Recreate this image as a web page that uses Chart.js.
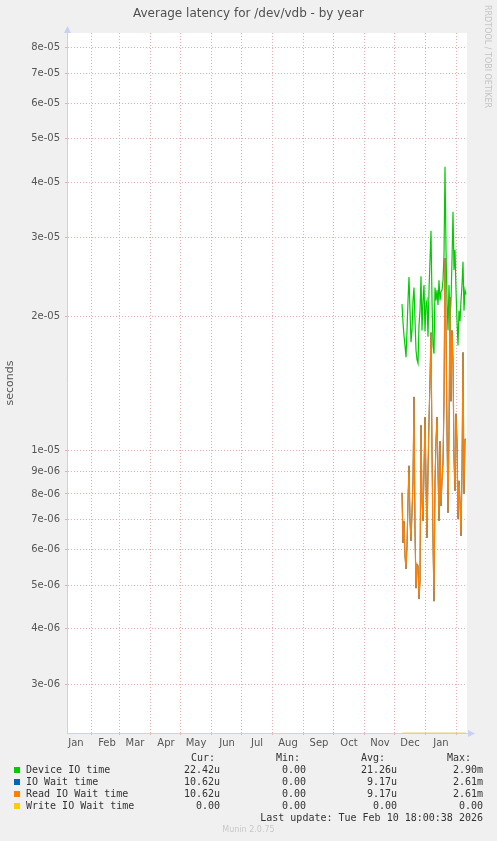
<!DOCTYPE html>
<html><head><meta charset="utf-8">
<script src="https://cdn.jsdelivr.net/npm/chart.js@4.4.1/dist/chart.umd.min.js"></script>
<style>
html,body{margin:0;padding:0;background:#f0f0f0;width:497px;height:841px;overflow:hidden;}
canvas{position:absolute;left:0;top:0;}
.txt{position:absolute;white-space:pre;}
.mono{font-family:"DejaVu Sans Mono",monospace;font-size:10px;line-height:12px;color:#333;}
.sq{position:absolute;width:6px;height:6px;}
</style></head><body>
<canvas id="c" width="497" height="841"></canvas>
<div class="txt" id="title" style="left:0;width:497px;top:5px;text-align:center;font-family:'DejaVu Sans';font-size:12px;line-height:16px;color:#505050;">Average latency for /dev/vdb - by year</div>
<div class="txt" style="left:492px;top:5px;transform:rotate(90deg);transform-origin:0 0;font-family:'DejaVu Sans';font-size:8px;line-height:9px;color:#c4c4c4;">RRDTOOL / TOBI OETIKER</div>
<div class="txt" style="left:0;width:497px;top:825px;text-align:center;font-family:'DejaVu Sans';font-size:8px;line-height:10px;color:#c8c8c8;">Munin 2.0.75</div>
<div id="legend"></div>
<script>
// ---- data ----
const monthNames = ['Jan','Feb','Mar','Apr','May','Jun','Jul','Aug','Sep','Oct','Nov','Dec','Jan'];
// days counted from 2025-01-01
const monthStarts = [31,59,90,120,151,181,212,243,273,304,334,365,396];
const monthLabelPos = [16,47,75,106,136,167,197,228,259,289,320,350,381];
const xMinDay = 7, xMaxDay = 407;
const yTicks = [3e-6,4e-6,5e-6,6e-6,7e-6,8e-6,9e-6,1e-5,2e-5,3e-5,4e-5,5e-5,6e-5,7e-5,8e-5];
const yMin = 2.33e-6, yMax = 8.63e-5;

const sampleDays = [342,343,344,345,346,347,348,349,350,351,352,353,354,355,356,357,358,359,360,361,362,363,364,365,366,367,368,369,370,371,372,373,374,375,376,377,378,379,380,381,382,383,384,385,386,387,388,389,390,391,392,393,394,395,396,397,398,399,400,401,402,403,404,405,406];

const deviceIO = [2.13e-5,1.94e-5,1.81e-5,1.72e-5,1.62e-5,1.86e-5,2.17e-5,2.45e-5,2.06e-5,1.75e-5,1.86e-5,2.17e-5,2.32e-5,1.96e-5,1.68e-5,1.60e-5,1.57e-5,1.91e-5,2.06e-5,2.46e-5,1.86e-5,2.17e-5,2.35e-5,1.85e-5,2.12e-5,2.17e-5,1.80e-5,2.29e-5,2.67e-5,3.11e-5,2.17e-5,1.72e-5,1.65e-5,2.32e-5,2.17e-5,2.29e-5,2.12e-5,2.41e-5,2.17e-5,2.27e-5,2.29e-5,2.41e-5,2.74e-5,4.33e-5,2.82e-5,2.17e-5,1.86e-5,2.35e-5,1.96e-5,2.17e-5,2.67e-5,3.43e-5,2.54e-5,2.82e-5,2.29e-5,1.96e-5,1.72e-5,2.06e-5,1.95e-5,2.17e-5,2.35e-5,2.65e-5,2.06e-5,2.29e-5,2.24e-5];

const ioWait = [8.05e-6,6.21e-6,6.96e-6,5.81e-6,5.43e-6,6.12e-6,7.72e-6,9.25e-6,6.96e-6,6.28e-6,7.26e-6,8.56e-6,1.32e-5,6.61e-6,4.92e-6,5.57e-6,5.52e-6,4.65e-6,5.10e-6,1.14e-5,7.72e-6,6.96e-6,9.02e-6,1.19e-5,8.56e-6,6.38e-6,9.02e-6,1.17e-5,1.44e-5,1.84e-5,1.00e-5,6.28e-6,4.60e-6,8.56e-6,1.05e-5,1.19e-5,9.02e-6,6.96e-6,1.05e-5,7.52e-6,8.56e-6,9.40e-6,1.29e-5,2.70e-5,1.86e-5,1.11e-5,7.26e-6,1.11e-5,2.21e-5,1.29e-5,1.86e-5,1.59e-5,9.59e-6,8.13e-6,1.21e-5,1.05e-5,7.03e-6,8.56e-6,7.72e-6,6.44e-6,9.02e-6,1.66e-5,8.01e-6,1.06e-5,1.062e-5];

const readIOWait = [8.05e-6,6.21e-6,6.96e-6,5.81e-6,5.43e-6,6.12e-6,7.72e-6,9.25e-6,6.96e-6,6.28e-6,7.26e-6,8.56e-6,1.32e-5,6.61e-6,4.92e-6,5.57e-6,5.52e-6,4.65e-6,5.10e-6,1.14e-5,7.72e-6,6.96e-6,9.02e-6,1.19e-5,8.56e-6,6.38e-6,9.02e-6,1.17e-5,1.44e-5,1.84e-5,1.00e-5,6.28e-6,4.60e-6,8.56e-6,1.05e-5,1.19e-5,9.02e-6,6.96e-6,1.05e-5,7.52e-6,8.56e-6,9.40e-6,1.29e-5,2.70e-5,1.86e-5,1.11e-5,7.26e-6,1.11e-5,2.21e-5,1.29e-5,1.86e-5,1.59e-5,9.59e-6,8.13e-6,1.21e-5,1.05e-5,7.03e-6,8.56e-6,7.72e-6,6.44e-6,9.02e-6,1.66e-5,8.01e-6,1.06e-5,1.062e-5];

const writeIOWait = [0,0,0,0,0,0,0,0,0,0,0,0,0,0,0,0,0,0,0,0,0,0,0,0,0,0,0,0,0,0,0,0,0,0,0,0,0,0,0,0,0,0,0,0,0,0,0,0,0,0,0,0,0,0,0,0,0,0,0,0,0,0,0,0,0];

const seriesNames = ['Device IO time','IO Wait time','Read IO Wait time','Write IO Wait time'];
const seriesColors = ['#00cc00','#0066b3','#ff8000','#ffcc00'];
const curVals = ['22.42u','10.62u','10.62u','0.00'];
const minVals = ['0.00','0.00','0.00','0.00'];
const avgVals = ['21.26u','9.17u','9.17u','0.00'];
const maxVals = ['2.90m','2.61m','2.61m','0.00'];
const lastUpdate = 'Last update: Tue Feb 10 18:00:38 2026';

// ---- chart ----
const gridCol = '#e3b0b0';
const axisCol = '#c9d0f2';
function pts(vals){ return sampleDays.map((d,i)=>({x:d, y: vals[i] > 0 ? vals[i] : yMin})); }
function fmtExp(v){ return Number(v).toExponential(0).replace(/e([+-])(\d)$/, 'e$10$2'); }

const bgPlugin = {
  id:'bg',
  beforeDraw(chart){
    const {ctx, chartArea:a} = chart;
    ctx.save(); ctx.fillStyle='#ffffff'; ctx.fillRect(a.left, a.top, a.right-a.left, a.bottom-a.top); ctx.restore();
  },
  afterDraw(chart){
    const {ctx, chartArea:a} = chart;
    ctx.save(); ctx.fillStyle = axisCol;
    ctx.beginPath(); ctx.moveTo(a.left+0.5, a.top-7); ctx.lineTo(a.left-3, a.top); ctx.lineTo(a.left+4, a.top); ctx.closePath(); ctx.fill();
    ctx.beginPath(); ctx.moveTo(a.right+8, a.bottom+0.5); ctx.lineTo(a.right+1, a.bottom-3); ctx.lineTo(a.right+1, a.bottom+4); ctx.closePath(); ctx.fill();
    ctx.restore();
  }
};

const lineDs = (label, vals, color, order, extra) => Object.assign({
  label, data: pts(vals), borderColor: color, backgroundColor: color,
  borderWidth: 1.2, pointRadius: 0, tension: 0, fill: false, order
}, extra || {});

new Chart(document.getElementById('c'), {
  type:'line',
  data:{ datasets:[
    lineDs(seriesNames[0], deviceIO, seriesColors[0], 4),
    lineDs(seriesNames[1], ioWait, seriesColors[1], 3, {borderWidth:1}),
    lineDs(seriesNames[2], readIOWait, seriesColors[2], 2),
    lineDs(seriesNames[3], writeIOWait, '#e8d070', 1, {clip:false, borderWidth:1})
  ]},
  options:{
    responsive:false, animation:false, devicePixelRatio:1,
    layout:{ padding:{left:0, top:33, right:30, bottom:88} },
    plugins:{ legend:{display:false}, tooltip:{enabled:false}, title:{display:false} },
    scales:{
      x:{
        type:'linear', min:xMinDay, max:xMaxDay,
        afterBuildTicks: s => { s.ticks = monthStarts.concat(monthLabelPos).sort((a,b)=>a-b).map(v=>({value:v})); },
        afterFit: s => { s.height = 20; },
        ticks:{ autoSkip:false, maxRotation:0, minRotation:0, padding:2, color:'#555',
          font:{family:'DejaVu Sans', size:10},
          callback: v => { const i = monthLabelPos.indexOf(v); return i >= 0 ? monthNames[i] : ''; } },
        grid:{ tickLength:2, lineWidth:1,
          color: c => (c.tick && monthStarts.indexOf(c.tick.value) >= 0) ? gridCol : 'rgba(0,0,0,0)' },
        border:{ color:axisCol, width:1, dash:[1,2] }
      },
      y:{
        type:'logarithmic', min:yMin, max:yMax,
        afterBuildTicks: s => { s.ticks = yTicks.map(v=>({value:v})); },
        afterFit: s => { s.width = 67; },
        ticks:{ autoSkip:false, padding:5, color:'#555', font:{family:'DejaVu Sans', size:10},
          callback: v => fmtExp(v) },
        grid:{ tickLength:2, lineWidth:1, color: gridCol },
        border:{ color:axisCol, width:1, dash:[1,2] },
        title:{ display:true, text:'seconds', color:'#555', font:{family:'DejaVu Sans', size:11}, padding:{top:4,bottom:0} }
      }
    }
  },
  plugins:[bgPlugin]
});

// ---- legend (HTML text) ----
const lg = document.getElementById('legend');
function addText(txt, left, centerY, right){
  const d = document.createElement('div');
  d.className = 'txt mono';
  d.textContent = txt;
  d.style.top = (centerY - 6) + 'px';
  if (right !== undefined) { d.style.left = (right - 300) + 'px'; d.style.width = '300px'; d.style.textAlign = 'right'; }
  else d.style.left = left + 'px';
  lg.appendChild(d);
}
addText('Cur:', 191, 758); addText('Min:', 276, 758); addText('Avg:', 361, 758); addText('Max:', 447, 758);
const rowY = [770, 782, 794, 806];
seriesNames.forEach((n,i)=>{
  const s = document.createElement('div'); s.className='sq';
  s.style.left='14px'; s.style.top=(rowY[i]-3)+'px'; s.style.background=seriesColors[i];
  lg.appendChild(s);
  addText(n, 26, rowY[i]);
  addText(curVals[i], 0, rowY[i], 220);
  addText(minVals[i], 0, rowY[i], 306);
  addText(avgVals[i], 0, rowY[i], 397);
  addText(maxVals[i], 0, rowY[i], 483);
});
addText(lastUpdate, 0, 818, 483);
</script>
</body></html>
